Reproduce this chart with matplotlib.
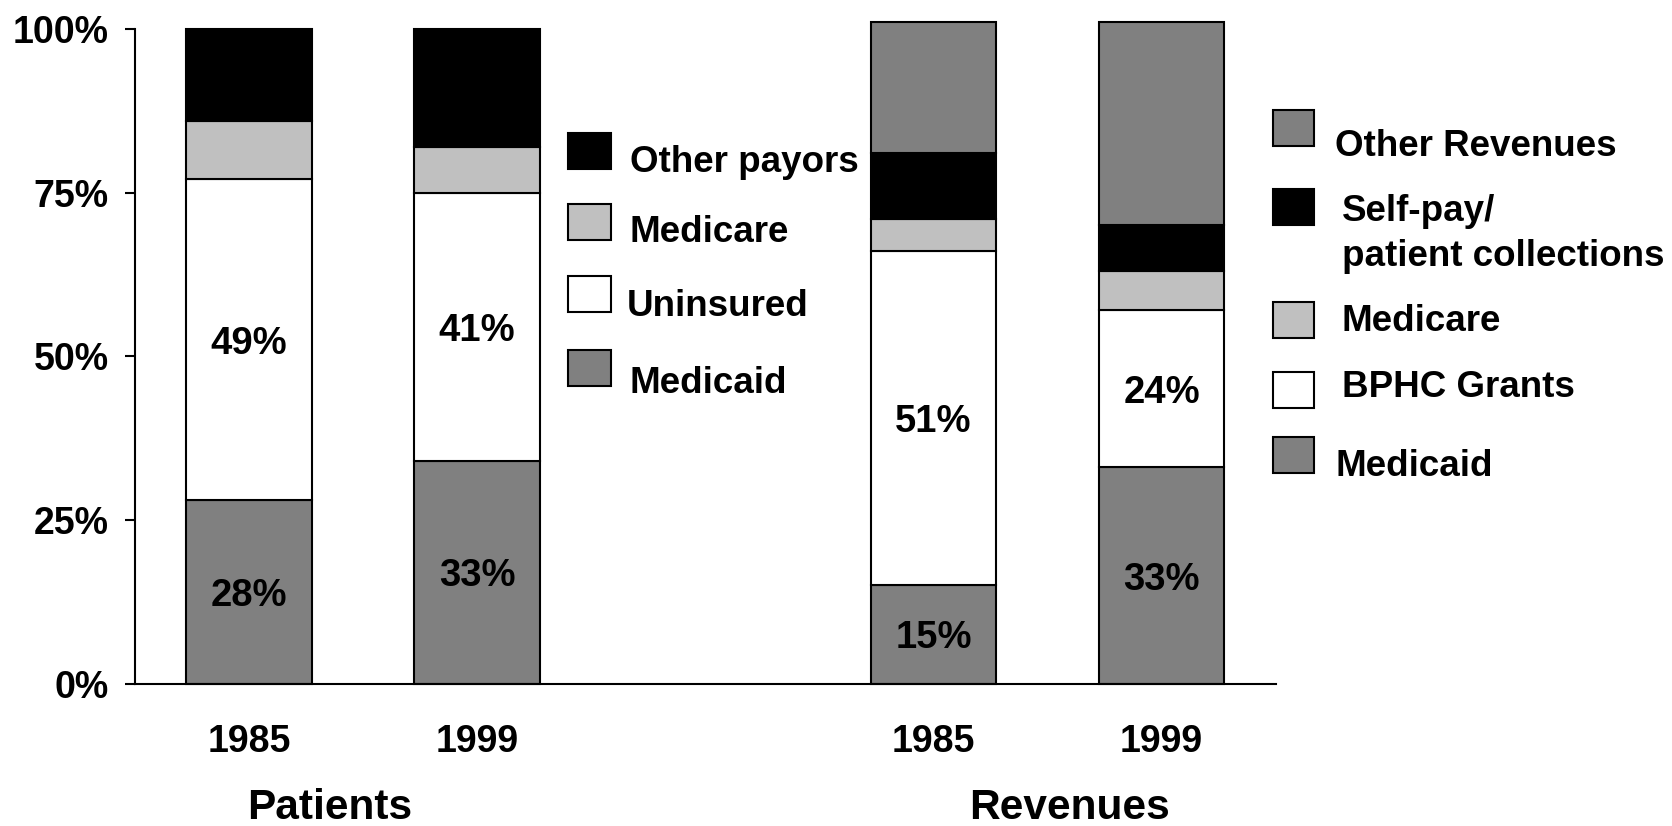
import numpy as np
import matplotlib.pyplot as plt
from matplotlib.patches import Rectangle

plt.rcParams['font.family'] = ['Liberation Sans', 'DejaVu Sans']
plt.rcParams['font.weight'] = 'bold'

# Bar data, in percent
years = ['1985', '1999', '1985', '1999']
x_pos = [0, 1, 3, 4]

# Patients
pat_medicaid = [28, 34]
pat_uninsured = [49, 41]
pat_medicare = [9, 7]
pat_other = [14, 18]
pat_labels_low = ['28%', '33%']
pat_labels_mid = ['49%', '41%']

# Revenues
rev_medicaid = [15, 33]
rev_bphc = [51, 24]
rev_medicare = [5, 6]
rev_selfpay = [10, 7]
rev_other = [20, 31]
rev_labels_low = ['15%', '33%']
rev_labels_mid = ['51%', '24%']

yticks = [0, 25, 50, 75, 100]

c_dark = '#808080'
c_light = '#C0C0C0'
c_white = '#FFFFFF'
c_black = '#000000'

leg_pat_names = ['Other payors', 'Medicare', 'Uninsured', 'Medicaid']
leg_pat_cols = [c_black, c_light, c_white, c_dark]
leg_rev_names = ['Other Revenues', 'Self-pay/\npatient collections', 'Medicare', 'BPHC Grants', 'Medicaid']
leg_rev_cols = [c_dark, c_black, c_light, c_white, c_dark]

W, H = 1672, 826
fig = plt.figure(figsize=(W / 100, H / 100), dpi=100)
ax = fig.add_axes([0.0807, 0.1725, 0.6823, 0.7925])

bw = 0.55
kw = dict(width=bw, edgecolor='black', linewidth=1.5, clip_on=False)

def stack(xs, layers):
    bottom = np.zeros(len(xs))
    for vals, col in layers:
        ax.bar(xs, vals, bottom=bottom, color=col, **kw)
        bottom = bottom + np.array(vals)

stack(x_pos[:2], [(pat_medicaid, c_dark), (pat_uninsured, c_white),
                  (pat_medicare, c_light), (pat_other, c_black)])
stack(x_pos[2:], [(rev_medicaid, c_dark), (rev_bphc, c_white),
                  (rev_medicare, c_light), (rev_selfpay, c_black), (rev_other, c_dark)])

# segment labels
fs = 27.5
lab = dict(ha='center', va='center_baseline', fontsize=fs)
for i in range(2):
    ax.text(x_pos[i], pat_medicaid[i] / 2, pat_labels_low[i], **lab)
    ax.text(x_pos[i], pat_medicaid[i] + pat_uninsured[i] / 2, pat_labels_mid[i], **lab)
    ax.text(x_pos[i + 2], rev_medicaid[i] / 2, rev_labels_low[i], **lab)
    ax.text(x_pos[i + 2], rev_medicaid[i] + rev_bphc[i] / 2, rev_labels_mid[i], **lab)

tfs = 27
ax.set_xlim(-0.5, 4.5)
ax.set_ylim(0, 100)
ax.set_yticks(yticks)
ax.set_yticklabels([f'{t}%' for t in yticks], fontsize=tfs, fontweight='bold')
ax.set_xticks(x_pos)
ax.set_xticklabels(years, fontsize=tfs, fontweight='bold')
ax.tick_params(axis='y', length=7, width=1.5, pad=12)
ax.tick_params(axis='x', length=0, pad=29)
for s in ['top', 'right']:
    ax.spines[s].set_visible(False)
ax.spines['left'].set_linewidth(1.5)
ax.spines['bottom'].set_linewidth(1.5)

# group titles
fig.text(330 / W, 1 - 808 / H, 'Patients', ha='center', va='center', fontsize=30.5)
fig.text(1069 / W, 1 - 808 / H, 'Revenues', ha='center', va='center', fontsize=30.5)

# legends drawn by hand (pixel positions from the reference)
lfs = 26.5

def key(x, ytop, col, w=43, h=36):
    fig.add_artist(Rectangle((x / W, 1 - (ytop + h) / H), w / W, h / H, transform=fig.transFigure,
                             facecolor=col, edgecolor='black', linewidth=1.5))

def key_text(x, ybase, s):
    fig.text(x / W, 1 - ybase / H, s, ha='left', va='baseline', fontsize=lfs, linespacing=1.38)

pat_key_top = [133, 204, 276, 350]
pat_text_x = [630, 630, 627, 630]
pat_text_base = [172, 242, 316, 393]
for name, col, yt, tx, tb in zip(leg_pat_names, leg_pat_cols, pat_key_top, pat_text_x, pat_text_base):
    key(568, yt, col)
    key_text(tx, tb, name)

rev_key_top = [110, 189, 302, 372, 437]
rev_text_x = [1335, 1342, 1342, 1342, 1335]
rev_text_base = [156, 229, 331, 397, 476]
for name, col, yt, tx, tb in zip(leg_rev_names, leg_rev_cols, rev_key_top, rev_text_x, rev_text_base):
    key(1273, yt, col, w=41)
    # baseline of the first line for multi-line labels
    nl = name.count('\n')
    key_text(tx, tb + nl * 37, name)

fig.savefig('out.png', dpi=100)
